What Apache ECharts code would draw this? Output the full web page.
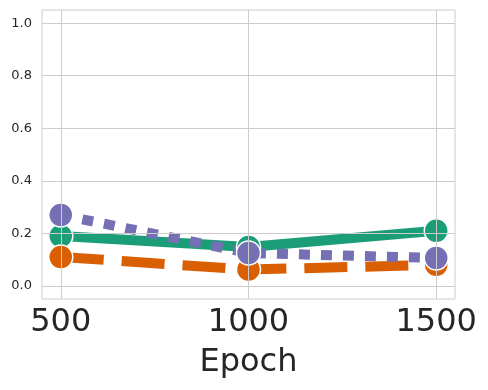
<!DOCTYPE html>
<html>
<head>
<meta charset="utf-8">
<script src="https://cdn.jsdelivr.net/npm/echarts@6/dist/echarts.min.js"></script>
<style>html,body{margin:0;padding:0;background:#fff}#c{width:488px;height:390px}</style>
</head>
<body>
<div id="c"></div>
<script>
const epochs = [500, 1000, 1500];
const greenVals = [0.19, 0.148, 0.21];
const orangeVals = [0.11, 0.062, 0.08];
const purpleVals = [0.27, 0.125, 0.106];
const xTicks = [500, 1000, 1500];
const yTicks = [0.0, 0.2, 0.4, 0.6, 0.8, 1.0];

const pair = v => epochs.map((e, i) => [e, v[i]]);
const mk = (vals, color, type, width) => ({
  type: 'line',
  data: pair(vals),
  symbol: 'circle',
  symbolSize: 24,
  itemStyle: {color: color, borderColor: '#fff', borderWidth: 1.5},
  lineStyle: {color: color, width: width, type: type, cap: 'butt'},
  emphasis: {disabled: true},
  animation: false
});
const near = (arr, v) => arr.find(t => Math.abs(t - v) < 1e-6);

const chart = echarts.init(document.getElementById('c'));
chart.setOption({
  animation: false,
  grid: {left: 42, right: 33, top: 10, bottom: 91, show: true, borderColor: '#cccccc', borderWidth: 1},
  xAxis: {
    type: 'value', min: 450, max: 1550, interval: 50,
    name: 'Epoch', nameLocation: 'middle', nameGap: 48,
    nameTextStyle: {fontSize: 32, color: '#262626', fontFamily: 'DejaVu Sans'},
    axisLine: {show: false}, axisTick: {show: false},
    axisLabel: {fontSize: 32, color: '#262626', fontFamily: 'DejaVu Sans', margin: 8,
      formatter: v => { const m = near(xTicks, v); return m === undefined ? '' : String(m); }},
    splitLine: {show: false}
  },
  yAxis: {
    type: 'value', min: -0.05, max: 1.05, interval: 0.05,
    axisLine: {show: false}, axisTick: {show: false},
    axisLabel: {fontSize: 13, color: '#262626', fontFamily: 'DejaVu Sans', margin: 10,
      formatter: v => { const m = near(yTicks, v); return m === undefined ? '' : m.toFixed(1); }},
    splitLine: {show: false}
  },
  series: [
    {
      type: 'line', data: [], z: 1, silent: true,
      markLine: {
        silent: true, symbol: 'none', animation: false,
        label: {show: false},
        lineStyle: {color: '#cccccc', width: 1, type: 'solid'},
        data: xTicks.map(v => ({xAxis: v})).concat(yTicks.map(v => ({yAxis: v})))
      }
    },
    mk(greenVals, '#1b9e77', 'solid', 10),
    mk(orangeVals, '#d95f02', [43, 18], 10),
    mk(purpleVals, '#7570b3', [11, 11], 10)
  ]
});
</script>
</body>
</html>
